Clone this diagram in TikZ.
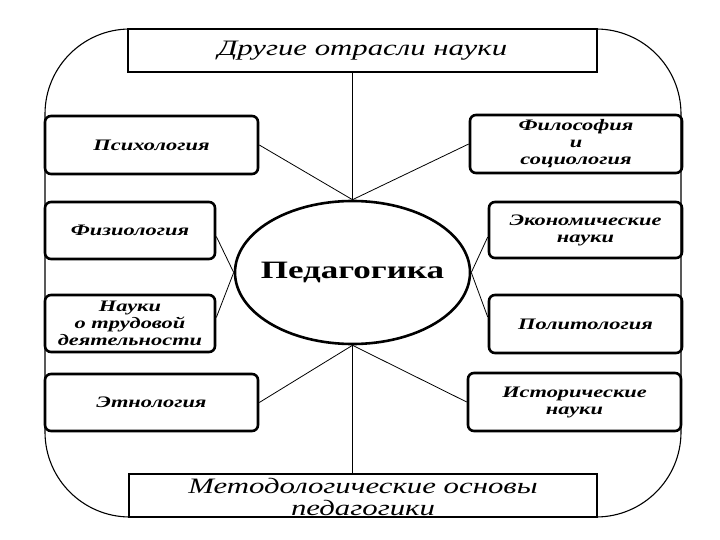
\documentclass[tikz,border=0pt]{standalone}
\usepackage{fontspec}
\setmainfont[FakeStretch=1.4]{Liberation Serif}
\usetikzlibrary{shapes.geometric}
\begin{document}
\begin{tikzpicture}[x=1pt,y=-1pt,
  side/.style={draw,line width=2.6pt,rounded corners=6pt,align=center,inner sep=0pt,
    font=\fontsize{16}{17}\selectfont\bfseries\itshape},
  bigbox/.style={draw,line width=2.8pt,inner sep=0pt},
  bigtext/.style={align=center,inner sep=0pt,font=\fontsize{22}{22.5}\selectfont\itshape},
  link/.style={line width=0.8pt},
  frame/.style={line width=1.1pt}]
\useasboundingbox (0,0) rectangle (720,540);
% outer frame
\draw[frame, rounded corners=85pt] (45,29) rectangle (681,517);
% top and bottom boxes
\node[bigbox,fill=white,minimum width=469pt,minimum height=43pt] (top) at (362.5,50.5) {};
\node[bigtext] (toptext) at (362.5,51) {Другие отрасли науки};
\node[bigbox,fill=white,minimum width=468pt,minimum height=43pt] (bot) at (363,495.5) {};
\node[bigtext] (bottext) at (363,497) {Методологические основы\\педагогики};
% centre
\node[ellipse,draw,line width=2.6pt,minimum width=235pt,minimum height=143pt,inner sep=0pt] (ped) at (352.5,272.5) {};
\node[inner sep=0pt,font=\fontsize{25}{27}\selectfont\bfseries] (pedtext) at (ped.center) {Педагогика};
% left boxes
\node[side,minimum width=213pt,minimum height=58pt] (psy) at (151.5,145) {Психология};
\node[side,minimum width=170pt,minimum height=57pt] (fiz) at (130,230.5) {Физиология};
\node[side,minimum width=170pt,minimum height=57pt] (trud) at (130,323.5) {Науки\\о трудовой\\деятельности};
\node[side,minimum width=213pt,minimum height=57pt] (eth) at (151.5,402.5) {Этнология};
% right boxes
\node[side,minimum width=212pt,minimum height=58pt] (phil) at (576,144) {Философия\\и\\социология};
\node[side,minimum width=193pt,minimum height=56pt] (econ) at (585.5,230) {Экономические\\науки};
\node[side,minimum width=193pt,minimum height=58pt] (pol) at (585.5,324) {Политология};
\node[side,minimum width=213pt,minimum height=58pt] (hist) at (574.5,402) {Исторические\\науки};
% connectors
\draw[link] (top.south -| ped.north) -- (ped.north);
\draw[link] (psy.east) -- (ped.north);
\draw[link] (phil.west) -- (ped.north);
\draw[link] ([yshift=-6pt]fiz.east) -- (ped.west);
\draw[link] ([yshift=6pt]trud.east) -- (ped.west);
\draw[link] ([yshift=-7pt]econ.west) -- (ped.east);
\draw[link] ([yshift=7pt]pol.west) -- (ped.east);
\draw[link] (eth.east) -- (ped.south);
\draw[link] (hist.west) -- (ped.south);
\draw[link] (ped.south) -- (ped.south |- bot.north);
\end{tikzpicture}
\end{document}
